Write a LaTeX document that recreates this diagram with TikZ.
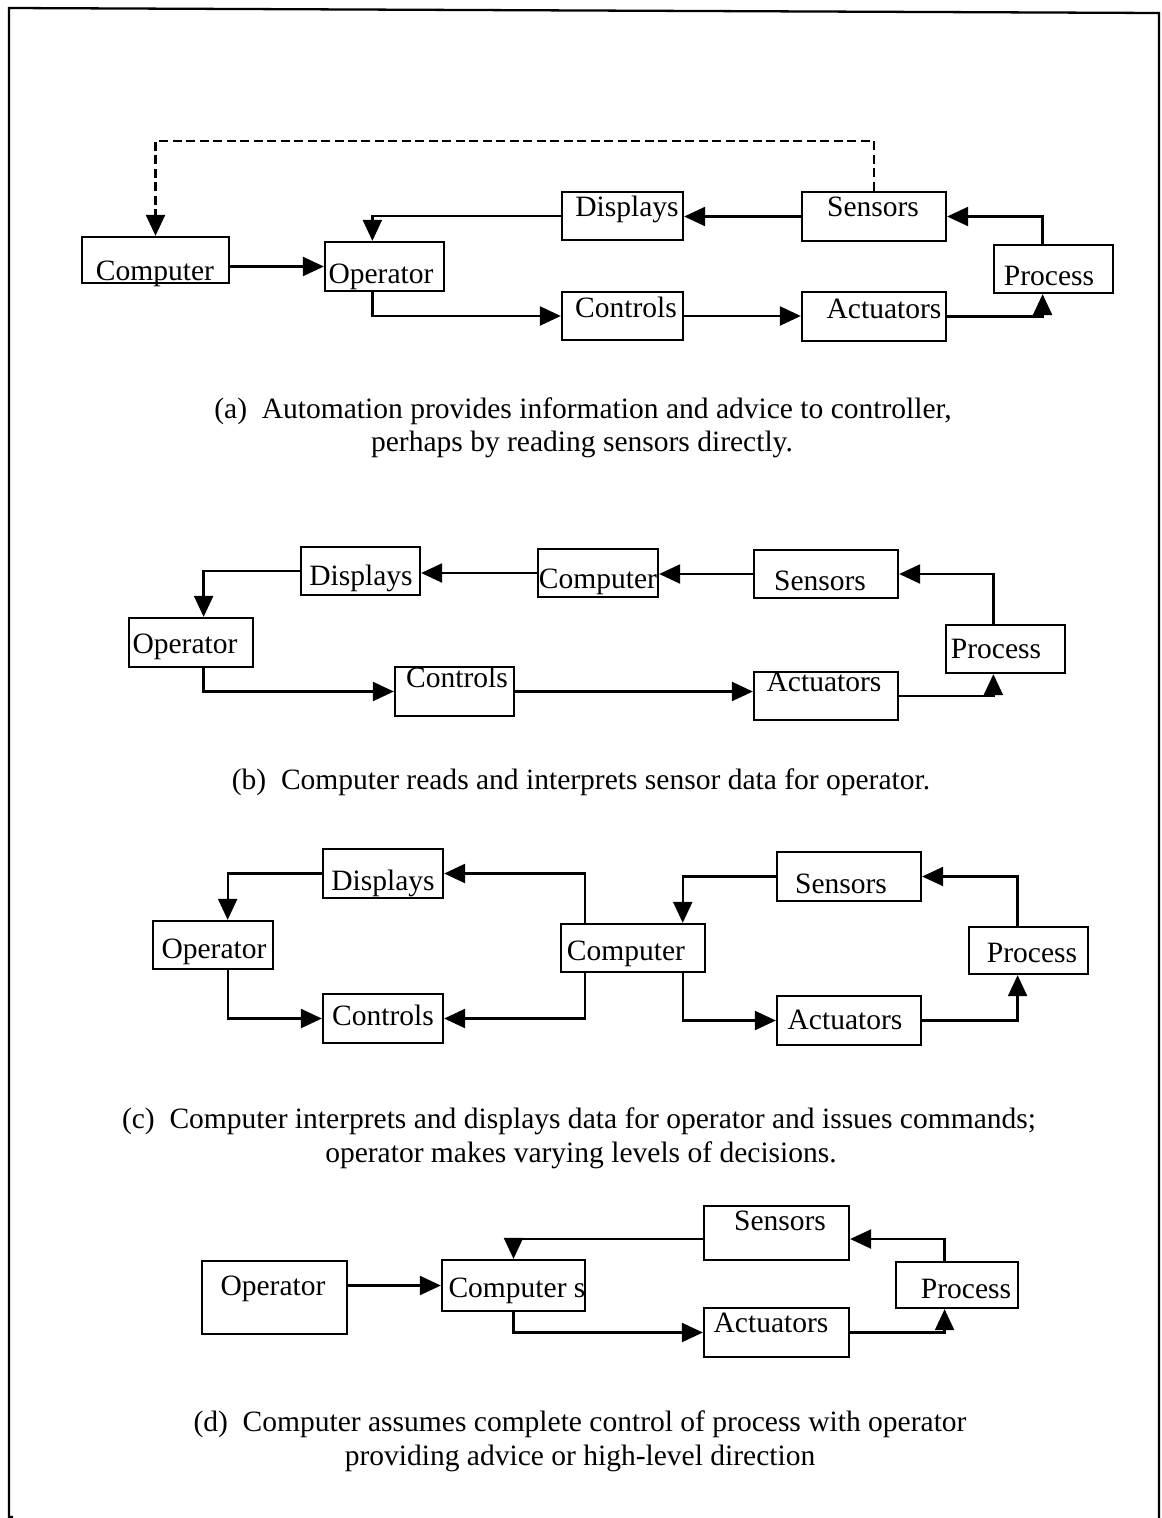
\documentclass[tikz,border=0pt]{standalone}
\usepackage{fontspec}
\setmainfont{Liberation Serif}
\usetikzlibrary{arrows.meta,calc}

% box with its own label: name, x1, y1, x2, y2, text x, text baseline y, text
\newcommand\blk[8]{%
  \node[box, minimum width={(#4-#2)*0.02cm}, minimum height={(#5-#3)*0.02cm}]
    (#1) at ({(#2+#4)/2},{(#3+#5)/2}) {};
  \node[lbl] (#1-t) at (#6,#7) {#8};
}

\begin{document}
\begin{tikzpicture}[x=0.02cm, y=-0.02cm,
  box/.style={draw, line width=1.3pt, inner sep=0pt, fill=white},
  lbl/.style={anchor=base, inner sep=0pt, font=\fontsize{16.8}{20}\selectfont},
  captext/.style={anchor=base, inner sep=0pt, font=\fontsize{16.8}{20}\selectfont},
  wire/.style={line width=1.3pt},
  arr/.style={wire, -{Triangle[length=0.42cm, width=0.38cm]}},
  dsh/.style={arr, dash pattern=on 0.18cm off 0.09cm}]

\useasboundingbox (0,0) rectangle (1162,1518);

% outer frame
\draw[line width=1.3pt] (13,1517) -- (9,1517) -- (9,8) -- (1159,13) -- (1159,1518);

% ---------------- (a) ----------------
\blk{a-comp}{82}{237}{229}{283}{155}{280}{Computer}
\blk{a-op}{325}{242}{444}{291}{381}{283}{Operator}
\blk{a-dis}{562}{192}{683}{240}{627}{216}{Displays}
\blk{a-sen}{802}{192}{946}{241}{873}{216}{Sensors}
\blk{a-pro}{994}{245}{1113}{293}{1049}{285}{Process}
\blk{a-con}{562}{292}{683}{340}{626}{317}{Controls}
\blk{a-act}{802}{292}{946}{341}{884}{318}{Actuators}

\coordinate (a-dsh) at (156,141);
\draw[dsh] (a-sen.north) |- (a-comp.north |- a-dsh) -- (a-comp.north);
\draw[arr] (a-comp.east |- a-op.west) -- (a-op.west);
\draw[arr] (a-dis.west) -| ($(a-op.north west)!0.4!(a-op.north east)$);
\draw[arr] (a-sen.west) -- (a-dis.east |- a-sen.west);
\draw[arr] ($(a-pro.north west)!0.41!(a-pro.north east)$) |- (a-sen.east);
\draw[arr] ($(a-op.south west)!0.4!(a-op.south east)$) |- (a-con.west);
\draw[arr] (a-con.east) -- (a-act.west |- a-con.east);
\draw[arr] (a-act.east) -| ($(a-pro.south west)!0.41!(a-pro.south east)$);

\node[captext] (cap-a1) at (583,418) {(a)\ \ Automation provides information and advice to controller,};
\node[captext] (cap-a2) at (582,451) {perhaps by reading sensors directly.};

% ---------------- (b) ----------------
\blk{b-dis}{301}{547}{420}{595}{361}{585}{Displays}
\blk{b-comp}{538}{549}{658}{597}{598}{588}{Computer}
\blk{b-sen}{754}{550}{898}{598}{820}{590}{Sensors}
\blk{b-op}{129}{618}{253}{667}{185}{653}{Operator}
\blk{b-pro}{946}{625}{1065}{673}{996}{658}{Process}
\blk{b-con}{395}{667}{514}{716}{457}{687}{Controls}
\blk{b-act}{754}{672}{898}{720}{824}{691}{Actuators}

\draw[arr] ($(b-pro.north west)!0.4!(b-pro.north east)$) |- (b-sen.east);
\draw[arr] (b-sen.west) -- (b-comp.east |- b-sen.west);
\draw[arr] (b-comp.west) -- (b-dis.east |- b-comp.west);
\draw[arr] (b-dis.west) -| ($(b-op.north west)!0.6!(b-op.north east)$);
\draw[arr] ($(b-op.south west)!0.6!(b-op.south east)$) |- (b-con.west);
\draw[arr] (b-con.east) -- (b-act.west |- b-con.east);
\draw[arr] (b-act.east) -| ($(b-pro.south west)!0.4!(b-pro.south east)$);

\node[captext] (cap-b) at (581,789) {(b)\ \ Computer reads and interprets sensor data for operator.};

% ---------------- (c) ----------------
\blk{c-dis}{323}{849}{443}{898}{383}{890}{Displays}
\blk{c-op}{153}{921}{273}{969}{214}{958}{Operator}
\blk{c-con}{323}{994}{443}{1043}{383}{1025}{Controls}
\blk{c-comp}{561}{924}{705}{972}{626}{960}{Computer}
\blk{c-sen}{777}{852}{921}{901}{841}{893}{Sensors}
\blk{c-pro}{969}{927}{1088}{974}{1032}{962}{Process}
\blk{c-act}{777}{996}{921}{1045}{845}{1029}{Actuators}

\draw[arr] ($(c-comp.north west)!0.174!(c-comp.north east)$) |- (c-dis.east);
\draw[arr] (c-dis.west) -| ($(c-op.north west)!0.62!(c-op.north east)$);
\draw[arr] ($(c-op.south west)!0.62!(c-op.south east)$) |- (c-con.west);
\draw[arr] ($(c-comp.south west)!0.174!(c-comp.south east)$) |- (c-con.east);
\draw[arr] ($(c-pro.north west)!0.41!(c-pro.north east)$) |- (c-sen.east);
\draw[arr] (c-sen.west) -| ($(c-comp.north west)!0.84!(c-comp.north east)$);
\draw[arr] ($(c-comp.south west)!0.84!(c-comp.south east)$) |- (c-act.west);
\draw[arr] (c-act.east) -| ($(c-pro.south west)!0.41!(c-pro.south east)$);

\node[captext] (cap-c1) at (579,1128) {(c)\ \ Computer interprets and displays data for operator and issues commands;};
\node[captext] (cap-c2) at (581,1162) {operator makes varying levels of decisions.};

% ---------------- (d) ----------------
\blk{d-op}{202}{1261}{347}{1334}{273}{1295}{Operator}
\blk{d-comp}{442}{1260}{585}{1311}{517}{1297}{Computer s}
\blk{d-sen}{704}{1206}{849}{1260}{780}{1230}{Sensors}
\blk{d-pro}{896}{1262}{1018}{1308}{966}{1298}{Process}
\blk{d-act}{704}{1308}{849}{1357}{771}{1332}{Actuators}

\coordinate (d-fb) at (0,1239);
\draw[arr] (d-op.east |- d-comp.west) -- (d-comp.west);
\draw[arr] ($(d-pro.north west)!0.4!(d-pro.north east)$) |- (d-sen.east |- d-fb);
\draw[arr] (d-sen.west |- d-fb) -| (d-comp.north);
\draw[arr] (d-comp.south) |- (d-act.west);
\draw[arr] (d-act.east) -| ($(d-pro.south west)!0.4!(d-pro.south east)$);

\node[captext] (cap-d1) at (580,1431) {(d)\ \ Computer assumes complete control of process with operator};
\node[captext] (cap-d2) at (580,1465) {providing advice or high-level direction};

\end{tikzpicture}
\end{document}
